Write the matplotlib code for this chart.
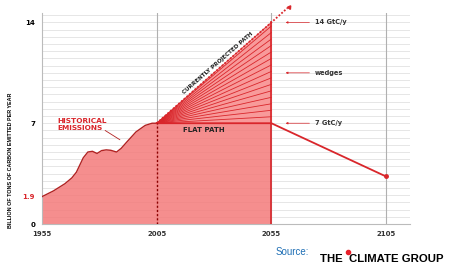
import matplotlib.pyplot as plt
from matplotlib.lines import Line2D
import numpy as np

# historical emissions
hist_years = [1955, 1960, 1965, 1968, 1970, 1973, 1975, 1977, 1979, 1981, 1983, 1985, 1987.5, 1989.5, 1992, 1996, 2000, 2003, 2005]
hist_vals = [1.9, 2.3, 2.8, 3.2, 3.6, 4.6, 5.0, 5.05, 4.9, 5.1, 5.15, 5.12, 5.0, 5.25, 5.7, 6.4, 6.85, 7.0, 7.0]

# flat path and projected path
flat_years = [2005, 2055, 2105]
flat_vals = [7, 7, 3.3]
proj_years = [2005, 2055, 2062]
proj_vals = [7, 14, 15.0]
wedge_ends = [7.0, 7.45, 7.9, 8.35, 8.8, 9.25, 9.7, 10.15, 10.6, 11.05, 11.5, 11.95, 12.4, 12.85, 13.3, 13.75, 14.0]

xticks = [1955, 2005, 2055, 2105]
yticks = [0, 1.9, 7, 14]
ytick_labels = ['0', '1.9', '7', '14']

fig = plt.figure(figsize=(4.49, 2.67), dpi=100)
ax = fig.add_axes([0.0935, 0.161, 0.82, 0.79])

red = '#d9262b'
pink = '#f47a7a'

# grid
for g in np.arange(0, 14.8, 0.5):
    ax.axhline(g, color='#e2e2e2', lw=0.6, zorder=0)
for xv in [2005, 2055, 2105]:
    ax.axvline(xv, color='#b0b0b0', lw=0.8, zorder=0)

# historical
ax.fill_between(hist_years, hist_vals, color=pink, alpha=0.85, lw=0, zorder=1)
ax.plot(hist_years, hist_vals, color='#b22222', lw=1.0, zorder=3)

# flat area 2005-2055
ax.fill_between([2005, 2055], [7, 7], color=pink, alpha=0.85, lw=0, zorder=1)
# wedges triangle
ax.fill_between([2005, 2055], [7, 7], [7, 14], color='#f89a9a', lw=0, zorder=1)
for w in wedge_ends:
    ax.plot([2005, 2055], [7, w], color=red, lw=0.6, zorder=2)

ax.plot(flat_years, flat_vals, color=red, lw=1.3, zorder=3)
ax.plot(flat_years[-1], flat_vals[-1], marker='o', ms=2.5, color=red, zorder=4)
ax.plot(proj_years, proj_vals, color=red, lw=1.3, ls=(0, (1, 1)), clip_on=False, zorder=3)
ax.plot(2062.5, 15.1, marker=(3, 0, -35), ms=3, color=red, clip_on=False)

ax.plot([2055, 2055], [0, 14], color=red, lw=1.2, zorder=3)
ax.plot([2005, 2005], [0, 7], color='#8b0000', lw=1.0, ls=(0, (1.5, 1.5)), zorder=3)

# labels
ax.text(2016.5, 6.75, 'FLAT PATH', fontsize=5, weight='bold', va='top', color='#222222')
ax.text(2031.5, 11.2, 'CURRENTLY PROJECTED PATH', fontsize=4.1, weight='bold', rotation=41,
        ha='center', va='center', color='#222222')
ax.text(1961.5, 6.9, 'HISTORICAL\nEMISSIONS', fontsize=5.3, weight='bold',
        color=red, va='center', linespacing=1.15)
ax.annotate('', xy=(1990, 5.75), xytext=(1981.5, 6.6),
            arrowprops=dict(arrowstyle='-', color='#b22222', lw=0.6))

for txt, yv in [('14 GtC/y', 14), ('wedges', 10.5), ('7 GtC/y', 7)]:
    ax.annotate(txt, xy=(2060, yv), xytext=(2074, yv), fontsize=4.8, weight='bold',
                va='center', color='#333333',
                arrowprops=dict(arrowstyle='-|>', color=red, lw=0.5, mutation_scale=3))

ax.set_xlim(1955, 2115.5)
ax.set_ylim(0, 14.65)
ax.set_xticks(xticks)
ax.set_xticklabels([str(x) for x in xticks], fontsize=5, weight='bold', color='#333333')
ax.set_yticks(yticks)
ax.set_yticklabels(ytick_labels, fontsize=5, weight='bold')
ax.get_yticklabels()[1].set_color(red)
ax.tick_params(length=0, pad=5)
for s in ['top', 'right']:
    ax.spines[s].set_visible(False)
ax.spines['left'].set_color('#bbbbbb')
ax.spines['bottom'].set_color('#bbbbbb')
ax.set_ylabel('BILLION OF TONS OF CARBON EMITTED PER YEAR', fontsize=3.9, weight='bold',
              family='Liberation Sans')
ax.yaxis.set_label_coords(-0.08, 0.30)

fig.text(0.613, 0.045, 'Source:', fontsize=7, color='#1f6fb5', family='Liberation Sans')
fig.text(0.713, 0.02, 'THE  CLIMATE GROUP', fontsize=8.2, weight='bold', color='black',
         family='Liberation Sans')
fig.add_artist(Line2D([0.774], [0.058], marker='o', ms=3, color='#e8202a',
                      transform=fig.transFigure))

fig.savefig('out.png', dpi=100)
